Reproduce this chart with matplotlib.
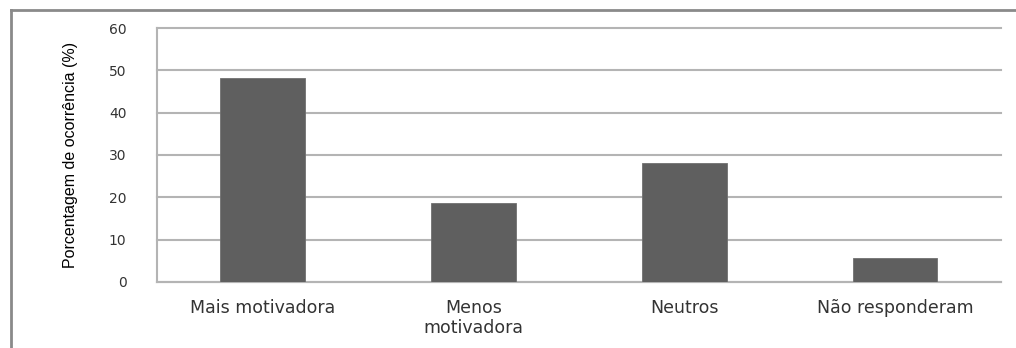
import matplotlib.pyplot as plt
from matplotlib.lines import Line2D

# dados do gráfico
categorias = ["Mais motivadora", "Menos\nmotivadora", "Neutros", "Não responderam"]
porcentagens = [48.3, 18.6, 28.2, 5.7]
yticks = [0, 10, 20, 30, 40, 50, 60]

cor_barra = "#5f5f5f"
cor_grade = "#b4b4b4"

fig = plt.figure(figsize=(10.16, 3.48), dpi=100)
ax = fig.add_axes([0.1545, 0.1897, 0.8305, 0.7298])

x = range(len(categorias))
ax.bar(x, porcentagens, width=0.4, color=cor_barra, edgecolor="#707070", linewidth=0.6, zorder=3)

ax.set_xlim(-0.5, len(categorias) - 0.5)
ax.set_ylim(0, 60)
ax.set_yticks(yticks)
ax.set_xticks(list(x))
ax.set_xticklabels(categorias, fontsize=12.5, color="#333333", family="DejaVu Sans", linespacing=1.2)
ax.set_yticklabels([str(v) for v in yticks], fontsize=10, color="#333333", family="DejaVu Sans")
ax.tick_params(axis="both", length=0)
ax.tick_params(axis="y", pad=22)
ax.tick_params(axis="x", pad=12)

ax.grid(axis="y", color=cor_grade, linewidth=1.5, zorder=0)
for linha in ax.get_ygridlines():
    linha.set_clip_on(False)
for lado in ["top", "right"]:
    ax.spines[lado].set_visible(False)
ax.spines["left"].set_color(cor_grade)
ax.spines["left"].set_linewidth(1.5)
ax.spines["bottom"].set_color(cor_grade)
ax.spines["bottom"].set_linewidth(1.5)

ax.set_ylabel("Porcentagem de ocorrência (%)", fontsize=11.5,
              family=["Liberation Sans Narrow", "Liberation Sans", "DejaVu Sans"], labelpad=22)

# moldura externa (apenas esquerda e topo visíveis)
xb = 10.5 / 1016
yb = 1 - 9.5 / 348
fig.add_artist(Line2D([xb, xb], [0, yb], color="#8a8a8a", linewidth=2, transform=fig.transFigure))
fig.add_artist(Line2D([xb, 1], [yb, yb], color="#8a8a8a", linewidth=2, transform=fig.transFigure))

fig.savefig("out.png", dpi=100)
